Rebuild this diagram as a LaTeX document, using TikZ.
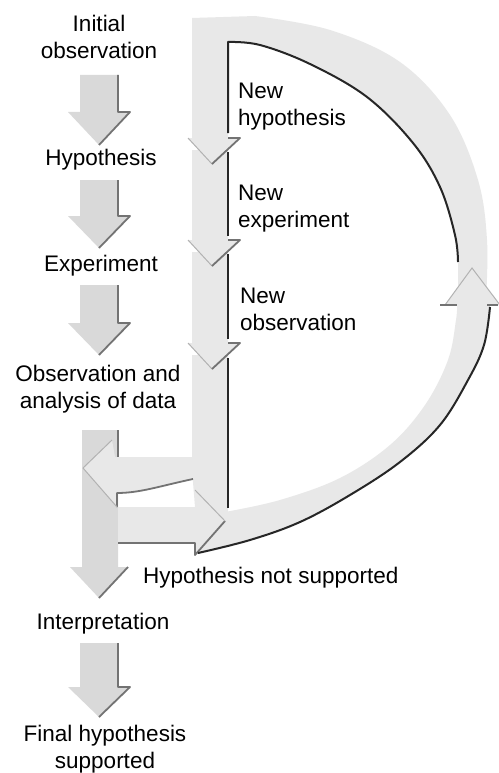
\documentclass[tikz,border=0pt]{standalone}
\usepackage{fontspec}
\setmainfont{Liberation Sans}
\tikzset{
  lbl/.style={font=\fontsize{22.5}{26.5}\selectfont, inner sep=0pt, align=center, anchor=north},
  lblL/.style={font=\fontsize{22.5}{26.5}\selectfont, inner sep=0pt, align=left, anchor=north west},
  stip/.style={fill=black!9},
  stipdark/.style={fill=black!15},
  hatch/.style={draw=black!55, line width=1.8pt, line join=round},
  vee/.style={draw=black!30, line width=1pt},
  rule/.style={draw=black!85, line width=2pt, line join=round},
}
\newcommand{\blockdown}[3]{%
  \fill[stipdark] (80,#1) -- (118,#1) -- (118,#2) -- (130,#2) -- (99,#3) -- (68,#2) -- (80,#2) -- cycle;
  \draw[hatch] (118,#1) -- (118,#2) -- (130,#2) -- (99,#3);
}
\newcommand{\segdown}[3]{%
  \fill[stip] (192,#1) -- (228,#1) -- (228,#2) -- (240,#2) -- (212,#3) -- (188,#2) -- (192,#2) -- cycle;
  \draw[vee] (188,#2) -- (212,#3);
  \draw[hatch] (228,#2) -- (240,#2) -- (212,#3);
}
\begin{document}
\begin{tikzpicture}[x=1pt,y=-1pt]
\fill[white] (0,0) rectangle (498,773);
\useasboundingbox (0,0) rectangle (498,773);

% big downward arrow below "Observation and analysis of data"
\fill[stipdark] (82,430) -- (118,430) -- (118,567) -- (128,567) -- (99,598) -- (70,567) -- (82,567) -- cycle;
\draw[hatch] (118,430) -- (118,457);
\draw[hatch] (128,567) -- (99,598);

% stipple where the bands meet
\fill[stip] (192,470) -- (228,470) -- (228,512) -- (210,522) -- (195,507) -- cycle;

% lowest segment of the vertical band, turning into the left-pointing arrow
\fill[stip] (192,355) -- (228,355) -- (228,508) .. controls (215,492) and (205,482) .. (193,479)
  .. controls (160,486) and (140,493) .. (117,493) -- (117,507) -- (83,468) -- (112,440) -- (115,457) -- (192,457) -- cycle;
\draw[hatch] (193,479) .. controls (160,486) and (140,493) .. (117,493) -- (117,507);
\draw[vee] (83,468) -- (112,440);
\draw[vee] (83,468) -- (117,507);

% vertical band segments
\segdown{252}{343}{369}
\segdown{150}{240}{266}

% upper arc band with first vertical segment
\fill[stip] plot[smooth, tension=0.6] coordinates {(255,16) (330,30) (400,62) (450,115) (478,180) (487,240) (486,300)}
  -- (458,300)
  -- plot[smooth, tension=0.6] coordinates {(458,262) (455,235) (440,187) (413,143) (367,97) (310,64) (260,45) (228,42)}
  -- (228,138) -- (240,138) -- (212,164) -- (188,138) -- (192,138) -- (192,18) -- cycle;
\draw[vee] (188,138) -- (212,164);
\draw[hatch] (228,138) -- (240,138) -- (212,164);

% lower arc band ending in an upward arrowhead
\fill[stip] (445,305) -- (472,268) -- (500,305) -- (490,305)
  -- plot[smooth, tension=0.6] coordinates {(490,307) (484,345) (468,380) (440,425) (400,462) (350,495) (300,522) (250,540) (198,553)}
  -- (205,520)
  -- plot[smooth, tension=0.6] coordinates {(225,512) (280,500) (340,478) (390,445) (425,405) (448,360) (456,320) (457,305)} -- cycle;
\draw[vee] (445,305) -- (472,268) -- (500,305);
\draw[hatch] (440,305) -- (457,305);
\draw[hatch] (487,305) -- (498,305);

% right-pointing arrow "Hypothesis not supported"
\fill[stip] (118,507) -- (195,507) -- (195,490) -- (225,521) -- (195,555) -- (195,543) -- (118,543) -- cycle;
\draw[hatch] (118,543) -- (195,543) -- (195,555) -- (225,521);
\draw[vee] (195,490) -- (225,521);

% dark rules
\draw[rule] (228,133) -- plot[smooth, tension=0.6] coordinates {(228,42) (260,45) (310,64) (367,97) (413,143) (440,187) (455,235) (458,262)};
\draw[rule] (228,152) -- (228,236);
\draw[rule] (228,254) -- (228,339);
\draw[rule] (228,358) -- (228,508);
\draw[rule] plot[smooth, tension=0.6] coordinates {(490,307) (484,345) (468,380) (440,425) (400,462) (350,495) (300,522) (250,540) (198,553)};

% small downward arrows of the main column
\blockdown{75}{112}{145}
\blockdown{180}{216}{248}
\blockdown{285}{323}{355}
\blockdown{643}{687}{717}

% texts
\node[lbl] (init) at (99,15) {Initial\\observation};
\node[lbl] (hyp) at (101,149) {Hypothesis};
\node[lbl] (exp) at (101,255) {Experiment};
\node[lbl] (obs) at (98,365) {Observation and\\analysis of data};
\node[lbl] (interp) at (103,613) {Interpretation};
\node[lbl] (final) at (105,725) {Final hypothesis\\supported};
\node[lblL] (nh) at (238,83) {New\\hypothesis};
\node[lblL] (ne) at (238,185) {New\\experiment};
\node[lblL] (no) at (240,288) {New\\observation};
\node[lblL] (ns) at (143,567) {Hypothesis not supported};
\end{tikzpicture}
\end{document}
